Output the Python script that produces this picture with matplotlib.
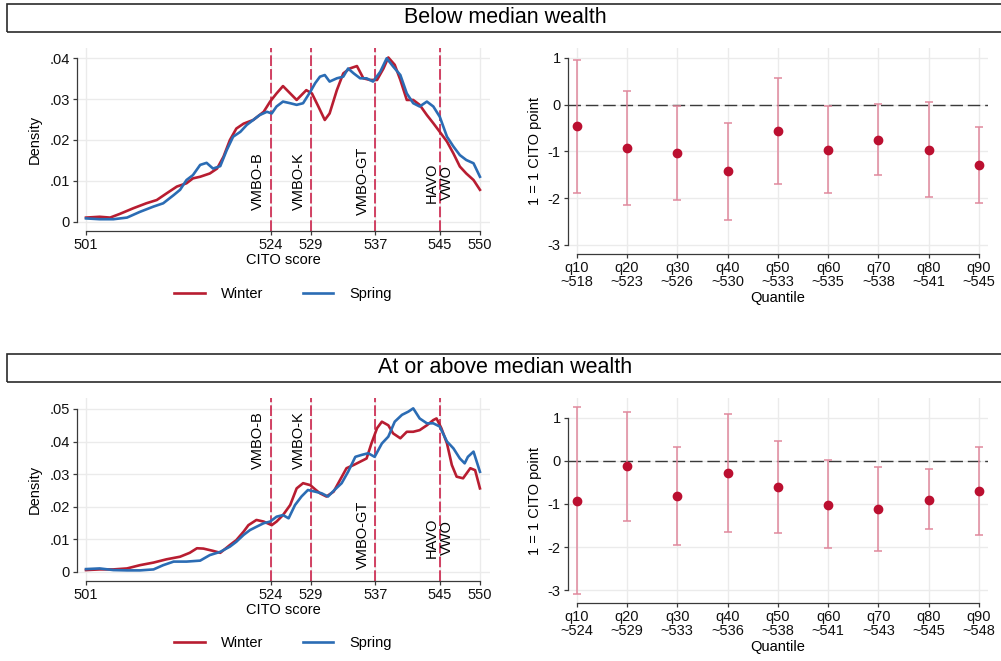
import numpy as np
import matplotlib
matplotlib.use("Agg")
import matplotlib.pyplot as plt
from matplotlib.patches import Rectangle

plt.rcParams['font.family'] = ['Liberation Sans', 'DejaVu Sans']

W, H = 1001, 661

RED = '#b81d31'
BLUE = '#2b6cb4'
CUT = '#c8103c'
DOT = '#bb0f30'
BAR = '#e0899d'
GRID = '#ebebeb'
AXC = '#3a3a3a'

# school-track cutoffs on the CITO scale
cutoffs = [524, 529, 537, 545]
cutoff_names = ['VMBO-B', 'VMBO-K', 'VMBO-GT', 'HAVO\nVWO']
score_ticks = [501, 524, 529, 537, 545, 550]

# --- below median wealth: kernel densities
low_winter_x = [501.0, 502.7, 504.0, 505.2, 506.9, 508.5, 509.8, 511.0, 512.3, 513.5,
                514.3, 515.2, 516.4, 517.3, 518.1, 518.9, 519.7, 520.6, 521.8, 523.1,
                523.9, 524.7, 525.5, 526.4, 527.2, 527.6, 528.4, 529.1, 529.9, 530.7,
                531.3, 532.2, 533.0, 533.8, 534.7, 535.5, 536.3, 537.2, 538.0, 538.6,
                539.4, 540.1, 540.9, 541.7, 542.5, 543.4, 544.2, 545.0, 545.9, 546.7,
                547.5, 548.3, 549.2, 550.0]
low_winter_d = [.001, .0012, .001, .0019, .0033, .0045, .0053, .0069, .0086, .0094,
                .0106, .011, .0118, .013, .0159, .02, .0228, .024, .0249, .0269,
                .0294, .0314, .0332, .0314, .0298, .0306, .0322, .0314, .0282, .0249,
                .0265, .0322, .0363, .0375, .0381, .0351, .0347, .0347, .0375, .0402,
                .0384, .0347, .0298, .0298, .0286, .0261, .0241, .022, .0196, .0167,
                .0135, .0118, .0102, .0078]
low_spring_x = [501.0, 502.7, 504.4, 506.1, 507.7, 509.4, 510.6, 511.9, 512.7, 513.5,
                514.3, 515.2, 516.0, 516.8, 517.7, 518.5, 519.3, 520.2, 521.0, 521.8,
                522.6, 523.5, 524.1, 524.7, 525.5, 526.4, 527.2, 528.0, 528.9, 529.5,
                530.1, 530.7, 531.3, 532.2, 533.0, 533.6, 534.3, 535.1, 535.9, 536.7,
                537.6, 538.4, 539.2, 540.1, 540.9, 541.7, 542.5, 543.4, 544.2, 545.0,
                545.9, 546.7, 547.5, 548.3, 549.2, 550.0]
low_spring_d = [.0008, .0006, .0006, .001, .0024, .0037, .0045, .0065, .0078, .0102,
                .0114, .0139, .0144, .013, .0136, .0175, .0208, .022, .0237, .0249,
                .0261, .0269, .0265, .0282, .0294, .029, .0286, .029, .0318, .0339,
                .0355, .0359, .0343, .0351, .0355, .0375, .0363, .0351, .0351, .0343,
                .0367, .04, .038, .0359, .0314, .029, .0282, .0294, .0282, .0257,
                .0208, .0184, .0163, .0151, .0143, .011]

# --- at or above median wealth: kernel densities
high_winter_x = [501.0, 502.7, 504.4, 506.1, 507.7, 509.4, 511.0, 512.7, 513.9, 514.8,
                 515.6, 516.8, 517.7, 518.9, 519.7, 520.6, 521.2, 522.2, 523.1, 524.1,
                 524.7, 525.5, 526.4, 527.2, 528.0, 528.9, 529.5, 530.1, 530.9, 531.8,
                 532.6, 533.4, 534.3, 535.1, 535.9, 536.5, 537.2, 537.8, 538.6, 539.2,
                 540.1, 540.9, 541.7, 542.5, 543.4, 544.2, 544.6, 545.2, 545.9, 546.5,
                 547.1, 547.9, 548.8, 549.4, 550.0]
high_winter_d = [.0005, .0007, .0007, .001, .002, .0028, .0038, .0046, .0058, .0072,
                 .0071, .0064, .0058, .0082, .0097, .0123, .0143, .0159, .0154, .0143,
                 .0154, .0174, .0205, .0256, .0272, .0266, .0253, .0241, .0231, .0246,
                 .0282, .0318, .0328, .0338, .0348, .0394, .0441, .0461, .045, .0425,
                 .041, .043, .043, .0435, .045, .0466, .0471, .0441, .0394, .0328,
                 .0292, .0287, .0318, .0312, .0256]
high_spring_x = [501.0, 502.7, 504.4, 506.1, 507.7, 509.4, 510.6, 511.9, 513.5, 515.2,
                 516.4, 517.7, 518.9, 519.7, 520.6, 521.4, 522.2, 523.1, 523.9, 524.7,
                 525.5, 526.2, 527.0, 527.8, 528.6, 529.5, 530.3, 531.1, 531.9, 532.8,
                 533.6, 534.5, 535.3, 536.1, 536.9, 537.8, 538.6, 539.4, 540.3, 541.1,
                 541.7, 542.5, 543.4, 544.2, 545.0, 545.9, 546.7, 547.5, 548.1, 548.5,
                 549.2, 550.0]
high_spring_d = [.0008, .001, .0005, .0004, .0004, .0007, .002, .0031, .0031, .0034,
                 .0051, .0061, .0077, .0092, .0113, .0128, .0138, .0149, .0154, .0169,
                 .0174, .0164, .0205, .0231, .0251, .0246, .0241, .0231, .0251, .0272,
                 .0307, .0353, .0359, .0364, .0353, .0394, .0415, .0461, .0482, .0492,
                 .0502, .0471, .0456, .0456, .0446, .04, .0379, .0348, .0333, .0353,
                 .0369, .0307]

# --- quantile regression estimates (effect of spring testing)
quantiles = ['q10', 'q20', 'q30', 'q40', 'q50', 'q60', 'q70', 'q80', 'q90']
low_q_scores = [518, 523, 526, 530, 533, 535, 538, 541, 545]
low_coef = [-0.46, -0.92, -1.03, -1.43, -0.57, -0.97, -0.75, -0.97, -1.29]
low_ci_hi = [0.96, 0.29, -0.03, -0.40, 0.57, -0.03, 0.02, 0.05, -0.48]
low_ci_lo = [-1.88, -2.14, -2.04, -2.47, -1.70, -1.90, -1.50, -1.97, -2.10]

high_q_scores = [524, 529, 533, 536, 538, 541, 543, 545, 548]
high_coef = [-0.92, -0.13, -0.81, -0.28, -0.61, -1.02, -1.12, -0.90, -0.70]
high_ci_hi = [1.25, 1.14, 0.33, 1.08, 0.46, 0.02, -0.14, -0.20, 0.31]
high_ci_lo = [-3.09, -1.39, -1.94, -1.64, -1.68, -2.03, -2.09, -1.59, -1.71]


def px_axes(fig, x0, y0, x1, y1):
    return fig.add_axes([x0 / W, 1 - y1 / H, (x1 - x0) / W, (y1 - y0) / H])


def style_axes(ax):
    for s in ['top', 'right']:
        ax.spines[s].set_visible(False)
    for s in ['left', 'bottom']:
        ax.spines[s].set_color(AXC)
        ax.spines[s].set_linewidth(0.9)
    ax.tick_params(direction='out', length=3, width=0.9, color=AXC,
                   labelsize=10.5, labelcolor='#111111', pad=2)
    ax.grid(True, color=GRID, lw=1)
    ax.set_axisbelow(True)


def density_panel(ax, xw, dw, xs, ds, ylim, yticks, label_y):
    style_axes(ax)
    ax.plot(xw, dw, color=RED, lw=1.9, label='Winter', zorder=3)
    ax.plot(xs, ds, color=BLUE, lw=1.9, label='Spring', zorder=3)
    for c, name, ly in zip(cutoffs, cutoff_names, label_y):
        ax.axvline(c, color=CUT, lw=1.1, dashes=(7, 2), zorder=2)
        if '\n' in name:
            ax.text(c, ly, name, rotation=90, ha='center', va='center',
                    fontsize=10.5, linespacing=1.1, multialignment='center', zorder=4)
        else:
            ax.annotate(name, (c, ly), xytext=(-4, 0), textcoords='offset points',
                        rotation=90, ha='right', va='center', fontsize=10.5, zorder=4)
    ax.set_xlim(499.88, 551.25)
    ax.set_ylim(*ylim)
    ax.set_xticks(score_ticks)
    ax.set_xticklabels([str(t) for t in score_ticks])
    ax.set_yticks(yticks)
    ax.set_yticklabels(['0'] + [('%.2f' % t)[1:] for t in yticks[1:]])
    ax.spines['bottom'].set_bounds(score_ticks[0], score_ticks[-1])
    ax.spines['left'].set_bounds(yticks[0], yticks[-1])
    ax.set_xlabel('CITO score', fontsize=10.5, labelpad=1)
    ax.set_ylabel('Density', fontsize=10.5, labelpad=6)


def quantile_panel(ax, coef, lo, hi, qscores, ylim):
    style_axes(ax)
    pos = np.arange(1, len(quantiles) + 1)
    coef = np.array(coef)
    err = [coef - np.array(lo), np.array(hi) - coef]
    ax.axhline(0, color='#3a3a3a', lw=1, dashes=(9, 3.5), zorder=2)
    ax.errorbar(pos, coef, yerr=err, fmt='none', ecolor=BAR, elinewidth=1.1,
                capsize=3, capthick=1.1, zorder=3)
    ax.plot(pos, coef, 'o', color=DOT, ms=6, zorder=4)
    ax.set_xlim(0.82, 9.18)
    ax.set_ylim(*ylim)
    ax.set_xticks(pos)
    ax.set_xticklabels(['%s\n~%d' % (q, s) for q, s in zip(quantiles, qscores)],
                       linespacing=1.0)
    ax.set_yticks([1, 0, -1, -2, -3])
    ax.set_yticklabels(['1', '0', '-1', '-2', '-3'])
    ax.spines['bottom'].set_bounds(1, 9)
    ax.spines['left'].set_bounds(-3, 1)
    ax.set_xlabel('Quantile', fontsize=10.5, labelpad=1)
    ax.set_ylabel('1 = 1 CITO point', fontsize=10.5, labelpad=4)


def panel_title(fig, y_top, y_bot, text):
    fig.add_artist(Rectangle((7 / W, 1 - y_bot / H), 1.0, (y_bot - y_top) / H,
                             transform=fig.transFigure, fill=False,
                             ec='#2a2a2a', lw=1.2))
    fig.text(505 / W, 1 - (y_bot - 9.6) / H, text, ha='center', va='baseline',
             fontsize=15.5)


fig = plt.figure(figsize=(W / 100, H / 100), dpi=100)

panel_title(fig, 4, 32.3, 'Below median wealth')
panel_title(fig, 354, 382.3, 'At or above median wealth')

ax1 = px_axes(fig, 77, 48, 490, 230.7)
density_panel(ax1, low_winter_x, low_winter_d, low_spring_x, low_spring_d,
              (-0.00221, 0.04252), [0, .01, .02, .03, .04], [.01, .01, .01, .0095])

ax2 = px_axes(fig, 567.7, 48, 988, 254.3)
quantile_panel(ax2, low_coef, low_ci_lo, low_ci_hi, low_q_scores, (-3.2, 1.207))

ax3 = px_axes(fig, 77, 398, 490, 580.7)
density_panel(ax3, high_winter_x, high_winter_d, high_spring_x, high_spring_d,
              (-0.00277, 0.05338), [0, .01, .02, .03, .04, .05], [.0405, .0405, .0113, .0105])

ax4 = px_axes(fig, 567.7, 398, 988, 603.3)
quantile_panel(ax4, high_coef, high_ci_lo, high_ci_hi, high_q_scores, (-3.30, 1.455))

for ax, ly in [(ax1, 294), (ax3, 643)]:
    h, l = ax.get_legend_handles_labels()
    fig.legend(h, l, loc='center', bbox_to_anchor=(283 / W, 1 - ly / H), ncol=2,
               frameon=False, fontsize=10.5, handlelength=2.1, handletextpad=1.1,
               columnspacing=2.7)

fig.savefig('out.png', dpi=100)
